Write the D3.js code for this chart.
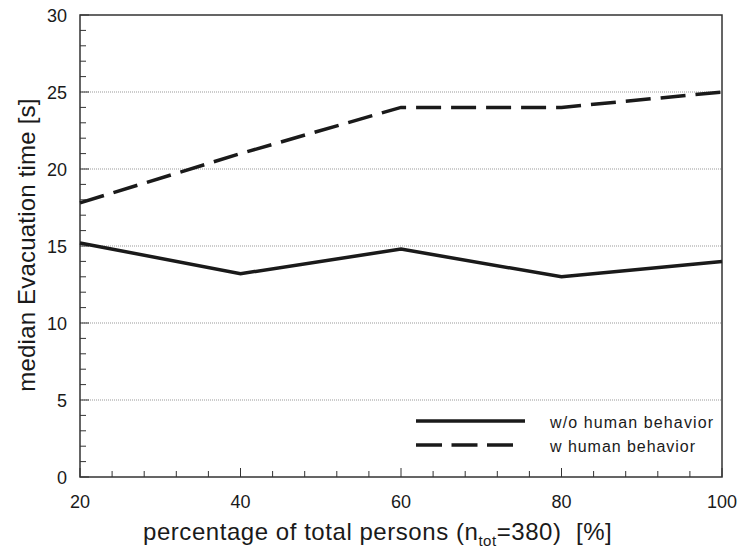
<!DOCTYPE html>
<html><head><meta charset="utf-8">
<script src="https://cdn.jsdelivr.net/npm/d3@7"></script>
<style>body{margin:0;background:#fff}svg{display:block}text{font-family:"Liberation Sans",Arial,sans-serif;fill:#1a1a1a;white-space:pre}</style>
</head><body>
<script>
const xValues = [20, 40, 60, 80, 100];
const woHuman = [15.2, 13.2, 14.8, 13.0, 14.0];
const wHuman = [17.8, 21.0, 24.0, 24.0, 25.0];
const seriesNames = ["w/o human behavior", "w human behavior"];
const xTicks = [20, 40, 60, 80, 100];
const yTicks = [0, 5, 10, 15, 20, 25, 30];
const gridValues = [5, 10, 15, 20, 25];

const W = 738, H = 548;
const m = {l: 80, r: 16, t: 15, b: 71};
const svg = d3.select("body").append("svg").attr("width", W).attr("height", H);
const x = d3.scaleLinear().domain([20, 100]).range([m.l, W - m.r]);
const y = d3.scaleLinear().domain([0, 30]).range([H - m.b, m.t]);

// grid
svg.append("g").selectAll("line").data(gridValues).join("line")
  .attr("x1", m.l).attr("x2", W - m.r).attr("y1", d => y(d)).attr("y2", d => y(d))
  .attr("stroke", "#999").attr("stroke-width", 1).attr("stroke-dasharray", "1,1");

// minor ticks (inward)
const xMinor = d3.range(20, 100.01, 4);
svg.append("g").selectAll("line").data(xMinor).join("line")
  .attr("x1", d => x(d)).attr("x2", d => x(d))
  .attr("y1", y(0)).attr("y2", d => y(0) - (xTicks.includes(d) ? 9 : 6))
  .attr("stroke", "#333").attr("stroke-width", 1);
const yMinor = d3.range(0, 30.01, 1);
svg.append("g").selectAll("line").data(yMinor).join("line")
  .attr("y1", d => y(d)).attr("y2", d => y(d))
  .attr("x1", x(20)).attr("x2", d => x(20) + (yTicks.includes(d) ? 9 : 6))
  .attr("stroke", "#333").attr("stroke-width", 1);

// frame
svg.append("rect").attr("x", m.l).attr("y", m.t).attr("width", W - m.l - m.r).attr("height", H - m.t - m.b)
  .attr("fill", "none").attr("stroke", "#333").attr("stroke-width", 1.5);

// tick labels
svg.append("g").selectAll("text").data(xTicks).join("text")
  .attr("x", d => x(d)).attr("y", 508).attr("text-anchor", "middle")
  .attr("font-size", 18).text(d => d);
svg.append("g").selectAll("text").data(yTicks).join("text")
  .attr("x", 67).attr("y", d => y(d) + 6.5).attr("text-anchor", "end")
  .attr("font-size", 18).text(d => d);

// lines
const line = d3.line().x((d, i) => x(xValues[i])).y(d => y(d));
svg.append("path").datum(woHuman).attr("d", line).attr("fill", "none")
  .attr("stroke", "#1a1a1a").attr("stroke-width", 3.5).attr("stroke-linejoin", "miter");
svg.append("path").datum(wHuman).attr("d", line).attr("fill", "none")
  .attr("stroke", "#1a1a1a").attr("stroke-width", 3.5).attr("stroke-dasharray", "25,10");

// legend
const lg = svg.append("g");
lg.append("line").attr("x1", 416).attr("x2", 525).attr("y1", 421).attr("y2", 421)
  .attr("stroke", "#1a1a1a").attr("stroke-width", 3.5);
lg.append("line").attr("x1", 416).attr("x2", 513).attr("y1", 445).attr("y2", 445)
  .attr("stroke", "#1a1a1a").attr("stroke-width", 3.5).attr("stroke-dasharray", "26,9.5");
lg.append("text").attr("x", 550).attr("y", 428).attr("font-size", 16)
  .attr("textLength", 163).attr("lengthAdjust", "spacing").text(seriesNames[0]);
lg.append("text").attr("x", 550).attr("y", 452).attr("font-size", 16)
  .attr("textLength", 145).attr("lengthAdjust", "spacing").text(seriesNames[1]);

// axis titles
svg.append("text").attr("transform", `translate(35,${(m.t + H - m.b) / 2 - 1}) rotate(-90)`)
  .attr("text-anchor", "middle").attr("font-size", 24).attr("letter-spacing", 0.2)
  .text("median Evacuation time [s]");
const xt = svg.append("text").attr("x", 143).attr("y", 540).attr("font-size", 24).attr("letter-spacing", 0.55);
xt.append("tspan").text("percentage of total persons (n");
xt.append("tspan").attr("font-size", 15).attr("dy", 6).text("tot");
xt.append("tspan").attr("dy", -6).text("=380)  [%]");
</script>
</body></html>
